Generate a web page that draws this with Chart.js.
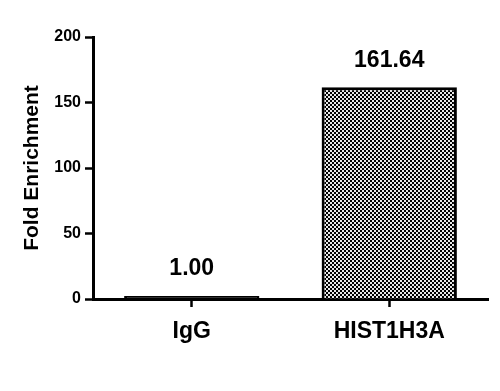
<!DOCTYPE html>
<html>
<head>
<meta charset="utf-8">
<script src="https://cdn.jsdelivr.net/npm/chart.js@4"></script>
<style>
  html, body { margin: 0; padding: 0; background: #fff; }
  #wrap { width: 500px; height: 391px; }
</style>
</head>
<body>
<div id="wrap"><canvas id="chart" width="500" height="391"></canvas></div>
<script>
const categories = ['IgG', 'HIST1H3A'];
const enrichment = [1.00, 161.64];
const valueLabels = ['1.00', '161.64'];
const yTicks = [0, 50, 100, 150, 200];

// checkered fill like the original
function makePattern() {
  const c = document.createElement('canvas');
  c.width = 4; c.height = 4;
  const g = c.getContext('2d');
  g.fillStyle = '#000';
  g.fillRect(0, 0, 4, 4);
  g.fillStyle = '#e8e8e8';
  g.fillRect(0, 0, 2, 2);
  g.fillRect(2, 2, 2, 2);
  return g.createPattern(c, 'repeat');
}

const fontFamily = '"Liberation Sans", Arial, sans-serif';

const valueLabelPlugin = {
  id: 'valueLabels',
  afterDatasetsDraw(chart) {
    const ctx = chart.ctx;
    const meta = chart.getDatasetMeta(0);
    ctx.save();
    ctx.font = 'bold 23px ' + fontFamily;
    ctx.fillStyle = '#000';
    ctx.textAlign = 'center';
    ctx.textBaseline = 'middle';
    meta.data.forEach(function(bar, i) {
      ctx.fillText(valueLabels[i], bar.x, bar.y - 27);
    });
    ctx.restore();
  }
};

const pattern = makePattern();

const ctx = document.getElementById('chart').getContext('2d');
new Chart(ctx, {
  type: 'bar',
  data: {
    labels: categories,
    datasets: [{
      data: enrichment,
      backgroundColor: ['#000', pattern],
      borderColor: '#000',
      borderWidth: 3,
      borderSkipped: 'bottom',
      minBarLength: 3,
      categoryPercentage: 1,
      barPercentage: 0.685
    }]
  },
  options: {
    responsive: false,
    animation: false,
    layout: { padding: { top: 37, right: 12, left: 0, bottom: 0 } },
    plugins: { legend: { display: false }, tooltip: { enabled: false } },
    scales: {
      x: {
        afterFit: function(s) { s.height = 92; },
        grid: { offset: false, drawOnChartArea: false, tickLength: 8, tickWidth: 2.5, tickColor: '#000' },
        border: { color: '#000', width: 3 },
        ticks: { color: '#000', padding: 11, font: { family: fontFamily, size: 23, weight: 'bold' } }
      },
      y: {
        min: 0,
        max: 200,
        afterFit: function(s) { s.width = 93; },
        afterBuildTicks: function(s) { s.ticks = yTicks.map(function(v) { return { value: v }; }); },
        grid: { drawOnChartArea: false, tickLength: 8, tickWidth: 2.5, tickColor: '#000' },
        border: { color: '#000', width: 3 },
        ticks: { color: '#000', padding: 4, font: { family: fontFamily, size: 16, weight: 'bold' } },
        title: {
          display: true,
          text: 'Fold Enrichment',
          color: '#000',
          padding: { top: 20, bottom: 0 },
          font: { family: fontFamily, size: 21, weight: 'bold' }
        }
      }
    }
  },
  plugins: [valueLabelPlugin]
});
</script>
</body>
</html>
